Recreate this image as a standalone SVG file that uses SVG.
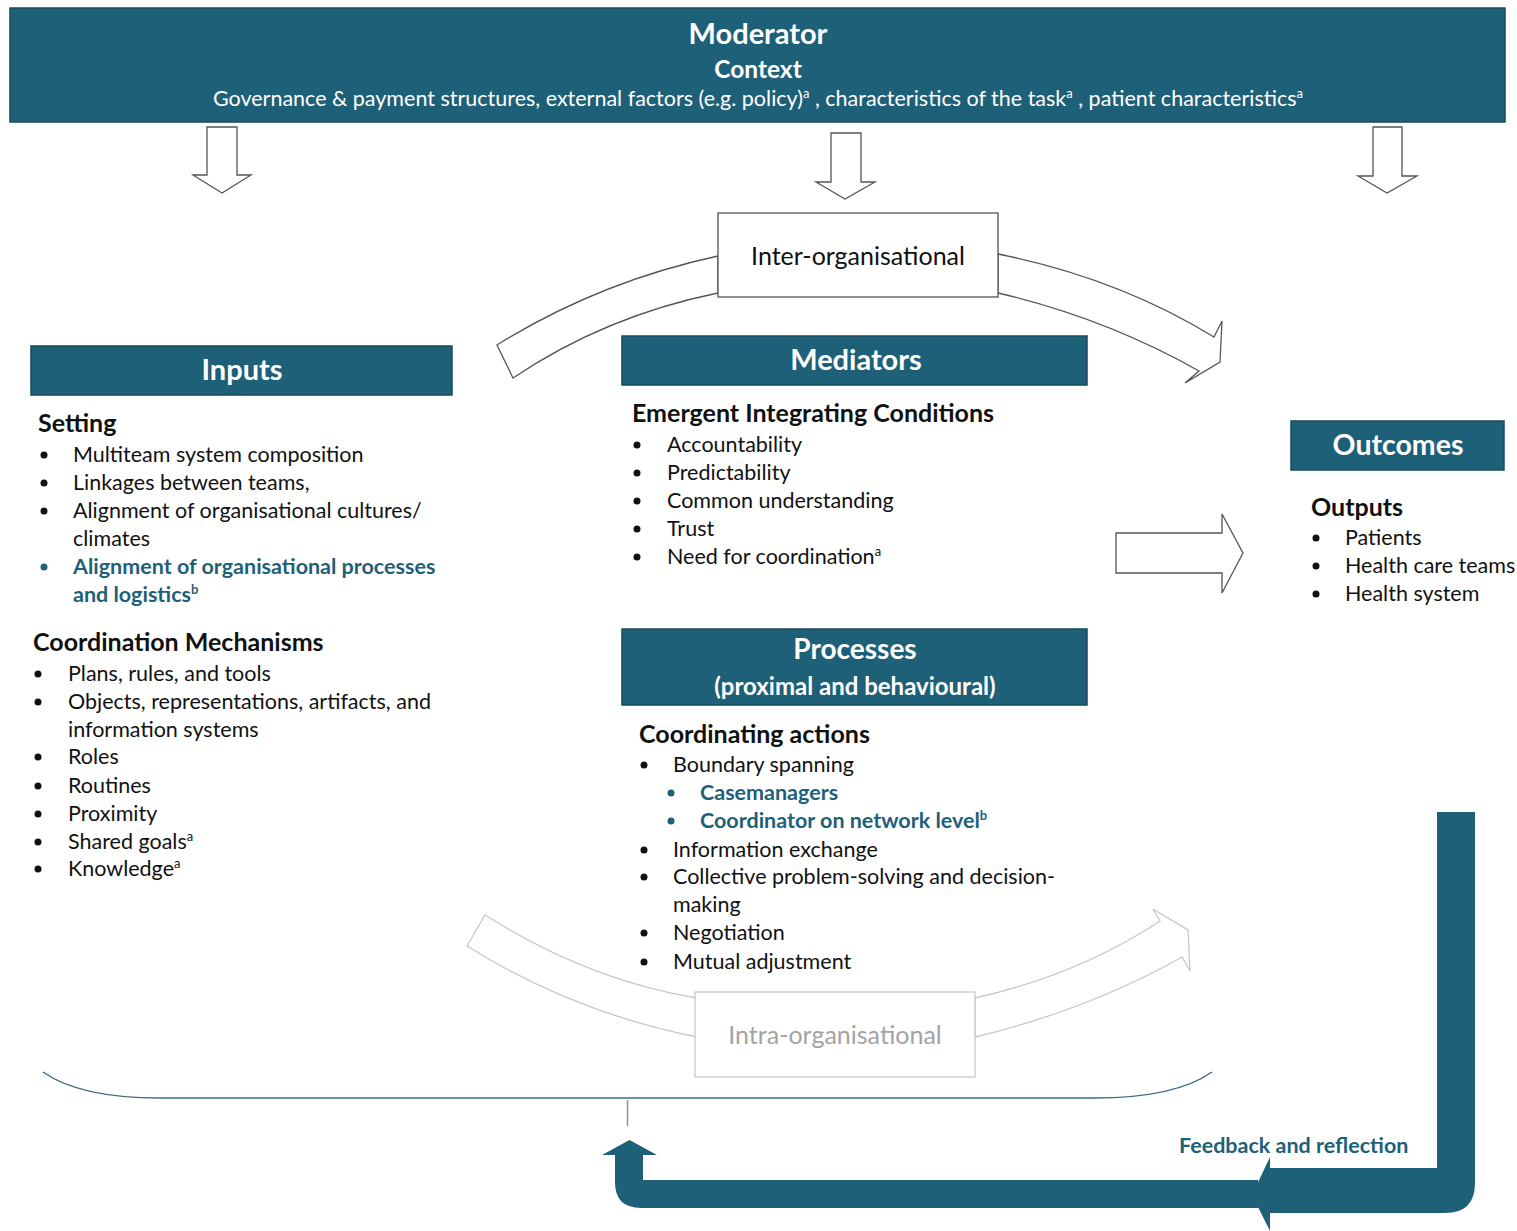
<svg xmlns="http://www.w3.org/2000/svg" width="1517" height="1231" viewBox="0 0 1517 1231">
  <defs>
    <style>
      .band { fill: #1F6079; stroke: #174a5e; stroke-width: 1.5; }
      .hd { font-family: Lato, "Open Sans", sans-serif; font-weight: bold; fill: #ffffff; text-anchor: middle; }
      .t { font-family: Lato, "Open Sans", sans-serif; font-size: 21.5px; fill: #111111; }
      .sh { font-family: Lato, "Open Sans", sans-serif; font-size: 25px; font-weight: bold; fill: #111111; }
      .hi { font-family: Lato, "Open Sans", sans-serif; font-size: 21.5px; font-weight: bold; fill: #1F6079; }
      .sup { font-size: 13px; }
      .outline { fill: #ffffff; stroke: #555555; stroke-width: 1.3; stroke-linejoin: miter; }
      .faint { fill: #ffffff; stroke: #c8c8c8; stroke-width: 1.3; }
      .dot { fill: #111111; }
      .tdot { fill: #1F6079; }
    </style>
  </defs>

  <rect width="1517" height="1231" fill="#ffffff"/>

  <!-- Moderator / context banner -->
  <g id="moderator">
    <rect class="band" x="10" y="8" width="1495" height="114"/>
    <text class="hd" x="758" y="44" font-size="29">Moderator</text>
    <text class="hd" x="758" y="78" font-size="24.5">Context</text>
    <text x="758" y="106" font-family="Lato, 'Open Sans', sans-serif" font-size="21.5" fill="#ffffff" text-anchor="middle">Governance &amp; payment structures, external factors (e.g. policy)<tspan class="sup" dy="-8">a</tspan><tspan dy="8"> , characteristics of the task</tspan><tspan class="sup" dy="-8">a</tspan><tspan dy="8"> , patient characteristics</tspan><tspan class="sup" dy="-8">a</tspan></text>
  </g>

  <g id="connectors">
    <!-- context influence arrows -->
    <polygon class="outline" points="207,127 237,127 237,175 251,175 222,193 193,175 207,175"/>
    <polygon class="outline" points="831,133 861,133 861,182 875,182 845,199 816,182 831,182"/>
    <polygon class="outline" points="1373,127 1402,127 1402,176 1417,176 1387,193 1358,176 1373,176"/>

    <!-- inter-organisational arc -->
    <path class="outline" d="M497,345 Q598,282 718,256 L718,293 Q605,316 513,378 Z"/>
    <path class="outline" d="M998,254 Q1118,278 1214,337 L1222,321 L1220,362 L1185,383 L1199,371 Q1105,318 998,293 Z"/>

    <!-- mediators to outcomes -->
    <polygon class="outline" stroke="#333333" points="1116,533 1222,533 1222,514 1243,553 1222,593 1222,573 1116,573"/>

    <!-- intra-organisational arc -->
    <path class="faint" d="M485,915 Q588,980 697,998 L697,1037 Q572,1012 467,946 Z"/>
    <path class="faint" d="M975,998 Q1078,975 1160,921 L1153,909 L1188,930 L1190,971 L1182,957 Q1088,1010 975,1037 Z"/>

    <!-- bracket below the model -->
    <path d="M43,1072 Q80,1098 160,1098 L1095,1098 Q1175,1098 1212,1072" fill="none" stroke="#3d6e80" stroke-width="1.5"/>
    <line x1="627.5" y1="1100" x2="627.5" y2="1126" stroke="#7f9aa6" stroke-width="1.5"/>

    <!-- feedback and reflection loop -->
    <path d="M1437,812 H1475 V1183 Q1475,1213 1445,1213 H1270 V1231 L1252,1195 L1270,1157 V1168 H1437 Z" fill="#1F6079"/>
    <path d="M1258,1180 H643 V1155 H657 L629.5,1140 L602,1155 H615 V1182 Q615,1208 641,1208 H1258 Z" fill="#1F6079"/>
  </g>

  <text class="hi" x="1179" y="1153" font-size="21">Feedback and reflection</text>

  <!-- Inter-organisational level -->
  <g id="inter-organisational">
    <rect x="718" y="213" width="280" height="84" fill="#ffffff" stroke="#555555" stroke-width="1.3"/>
    <text x="858" y="265" font-family="Lato, 'Open Sans', sans-serif" font-size="25" fill="#111111" text-anchor="middle">Inter-organisational</text>
  </g>

  <!-- Intra-organisational level -->
  <g id="intra-organisational">
    <rect x="695" y="992" width="280" height="85" fill="#ffffff" stroke="#c8c8c8" stroke-width="1.3"/>
    <text x="835" y="1044" font-family="Lato, 'Open Sans', sans-serif" font-size="25" fill="#a3a3a3" text-anchor="middle">Intra-organisational</text>
  </g>

  <!-- Inputs -->
  <g id="inputs">
    <rect class="band" x="31" y="346" width="421" height="49"/>
    <text class="hd" x="242" y="380" font-size="29">Inputs</text>
    <text class="sh" x="38" y="432">Setting</text>
    <circle class="dot" cx="44" cy="455" r="3.5"/>
    <text class="t" x="73" y="462">Multiteam system composition</text>
    <circle class="dot" cx="44" cy="483" r="3.5"/>
    <text class="t" x="73" y="490">Linkages between teams,</text>
    <circle class="dot" cx="44" cy="511" r="3.5"/>
    <text class="t" x="73" y="518">Alignment of organisational cultures/</text>
    <text class="t" x="73" y="546">climates</text>
    <circle class="tdot" cx="44" cy="567" r="3.5"/>
    <text class="hi" x="73" y="574">Alignment of organisational processes</text>
    <text class="hi" x="73" y="602">and logistics<tspan class="sup" dy="-8">b</tspan></text>

    <text class="sh" x="33" y="651">Coordination Mechanisms</text>
    <circle class="dot" cx="38" cy="674" r="3.5"/>
    <text class="t" x="68" y="681">Plans, rules, and tools</text>
    <circle class="dot" cx="38" cy="702" r="3.5"/>
    <text class="t" x="68" y="709">Objects, representations, artifacts, and</text>
    <text class="t" x="68" y="737">information systems</text>
    <circle class="dot" cx="38" cy="757" r="3.5"/>
    <text class="t" x="68" y="764">Roles</text>
    <circle class="dot" cx="38" cy="786" r="3.5"/>
    <text class="t" x="68" y="793">Routines</text>
    <circle class="dot" cx="38" cy="814" r="3.5"/>
    <text class="t" x="68" y="821">Proximity</text>
    <circle class="dot" cx="38" cy="842" r="3.5"/>
    <text class="t" x="68" y="849">Shared goals<tspan class="sup" dy="-8">a</tspan></text>
    <circle class="dot" cx="38" cy="869" r="3.5"/>
    <text class="t" x="68" y="876">Knowledge<tspan class="sup" dy="-8">a</tspan></text>
  </g>

  <!-- Mediators -->
  <g id="mediators">
    <rect class="band" x="622" y="336" width="465" height="49"/>
    <text class="hd" x="856" y="370" font-size="29">Mediators</text>
    <text class="sh" x="632" y="422">Emergent Integrating Conditions</text>
    <circle class="dot" cx="637" cy="445" r="3.5"/>
    <text class="t" x="667" y="452">Accountability</text>
    <circle class="dot" cx="637" cy="473" r="3.5"/>
    <text class="t" x="667" y="480">Predictability</text>
    <circle class="dot" cx="637" cy="501" r="3.5"/>
    <text class="t" x="667" y="508">Common understanding</text>
    <circle class="dot" cx="637" cy="529" r="3.5"/>
    <text class="t" x="667" y="536">Trust</text>
    <circle class="dot" cx="637" cy="557" r="3.5"/>
    <text class="t" x="667" y="564">Need for coordination<tspan class="sup" dy="-8">a</tspan></text>
  </g>

  <!-- Processes -->
  <g id="processes">
    <rect class="band" x="622" y="629" width="465" height="76"/>
    <text class="hd" x="855" y="659" font-size="28">Processes</text>
    <text class="hd" x="855" y="695" font-size="24">(proximal and behavioural)</text>
    <text class="sh" x="639" y="743">Coordinating actions</text>
    <circle class="dot" cx="644" cy="765" r="3.5"/>
    <text class="t" x="673" y="772">Boundary spanning</text>
    <circle class="tdot" cx="671" cy="793" r="3.5"/>
    <text class="hi" x="700" y="800">Casemanagers</text>
    <circle class="tdot" cx="671" cy="821" r="3.5"/>
    <text class="hi" x="700" y="828">Coordinator on network level<tspan class="sup" dy="-8">b</tspan></text>
    <circle class="dot" cx="644" cy="850" r="3.5"/>
    <text class="t" x="673" y="857">Information exchange</text>
    <circle class="dot" cx="644" cy="877" r="3.5"/>
    <text class="t" x="673" y="884">Collective problem-solving and decision-</text>
    <text class="t" x="673" y="912">making</text>
    <circle class="dot" cx="644" cy="933" r="3.5"/>
    <text class="t" x="673" y="940">Negotiation</text>
    <circle class="dot" cx="644" cy="962" r="3.5"/>
    <text class="t" x="673" y="969">Mutual adjustment</text>
  </g>

  <!-- Outcomes -->
  <g id="outcomes">
    <rect class="band" x="1291" y="421" width="213" height="49"/>
    <text class="hd" x="1398" y="455" font-size="28.5">Outcomes</text>
    <text class="sh" x="1311" y="516">Outputs</text>
    <circle class="dot" cx="1316" cy="538" r="3.5"/>
    <text class="t" x="1345" y="545">Patients</text>
    <circle class="dot" cx="1316" cy="566" r="3.5"/>
    <text class="t" x="1345" y="573">Health care teams</text>
    <circle class="dot" cx="1316" cy="594" r="3.5"/>
    <text class="t" x="1345" y="601">Health system</text>
  </g>
</svg>
